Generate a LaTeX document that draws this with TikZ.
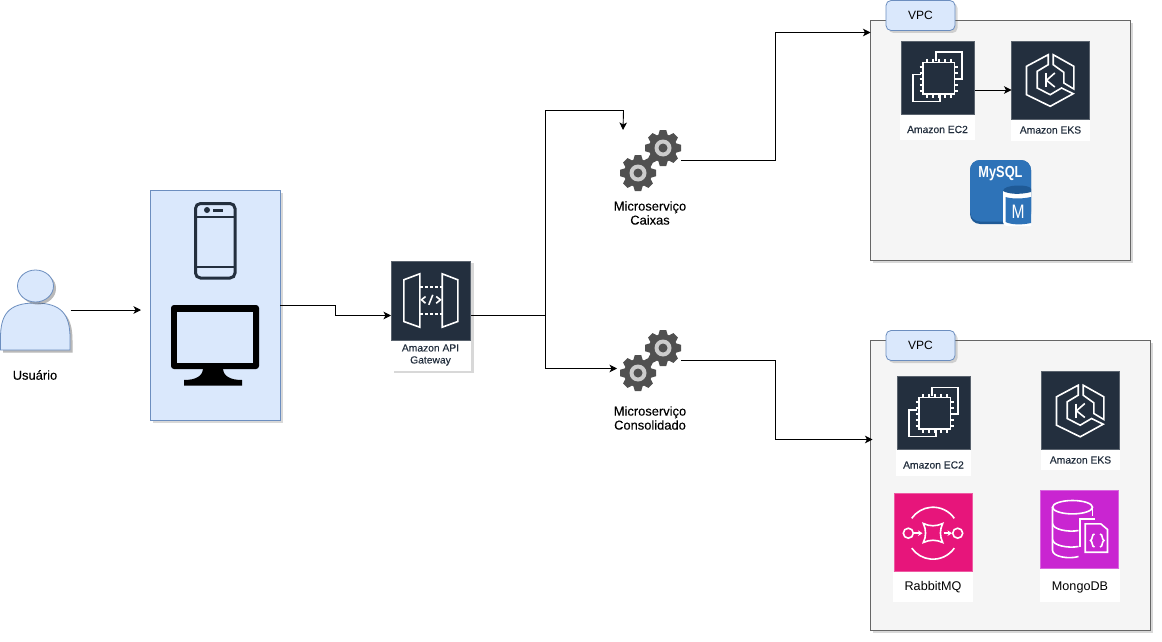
\documentclass[tikz,border=0pt]{standalone}
\usepackage{fontspec}
\setmainfont{Liberation Sans}
\newfontfamily\heavyfont[FakeBold=0.2]{Liberation Sans}
\usetikzlibrary{arrows.meta,shadows,positioning,calc}

\definecolor{awsdark}{HTML}{232F3E}
\definecolor{boxblue}{HTML}{DAE8FC}
\definecolor{edgeblue}{HTML}{6C8EBF}
\definecolor{vpcgray}{HTML}{F5F5F5}
\definecolor{vpcedge}{HTML}{666666}
\definecolor{gearcolor}{HTML}{505050}
\definecolor{rabbitpink}{HTML}{E7157B}
\definecolor{mongopurple}{HTML}{C925D1}
\definecolor{mysqlblue}{HTML}{2E73B8}
\definecolor{mysqldark}{HTML}{1F5A96}

\newcommand{\gearshape}[2]{%
  \begin{scope}[shift={(#1,#2)}]
    \foreach \a in {0,45,...,315}
      \fill[gearcolor,rotate=\a] (-5,-12) -- (-3.2,-18) -- (3.2,-18) -- (5,-12) -- cycle;
    \fill[gearcolor] (0,0) circle (14);
    \fill[black!20] (0,0) circle (8.5);
    \fill[gearcolor] (0,0) circle (4.5);
  \end{scope}}

\tikzset{
  pics/gearpair/.style={code={\gearshape{43}{18}\gearshape{18}{43}}},
  pics/ec2icon/.style={code={
    \draw[iconline] (35,20) |- (61,11.3) |- (53,38);
    \draw[iconline] (20,33.7) -| (11.7,60.3) -| (39,53.7);
    \draw[iconline] (22,21.5) rectangle (53.5,53);
    \foreach \p in {26,32,38,44,50} {
      \draw[iconpin] (\p,18) -- (\p,21.5);
      \draw[iconpin] (\p,53) -- (\p,56.5);
      \draw[iconpin] (18.5,\p) -- (22,\p);
      \draw[iconpin] (53.5,\p) -- (57,\p);
    }}},
  pics/eksicon/.style={code={
    \draw[iconline] (36.7,13.7) -- (15,25.3) -- (15,53.7) -- (38.7,65.3) -- (61.7,52.7) -- (50,47) -- (38.7,53.7) -- (25.7,47) -- (25.7,30.3) -- (36.7,23.7) -- cycle;
    \draw[iconline] (41.7,13.7) -- (62.3,25.3) -- (62.3,48) -- (52.3,42) -- (52.3,31.3) -- (41.7,23.7) -- cycle;
    \draw[iconline] (34.3,32) -- (34.3,46);
    \draw[iconline] (43.3,32) -- (35,39.3) -- (43.3,46);
  }},
  pics/gatewayicon/.style={code={
    \draw[iconline] (12.3,18.3) -- (28.3,12.3) -- (28.3,65.7) -- (12.3,60) -- cycle;
    \draw[iconline] (50.7,12.3) -- (66.3,18.3) -- (66.3,60) -- (50.7,65.7) -- cycle;
    \draw[iconline,densely dashed] (28.3,25.7) -- (50.7,25.7);
    \draw[iconline,densely dashed] (28.3,52.7) -- (50.7,52.7);
    \draw[iconline] (34,35) -- (30,38.3) -- (34,41.7);
    \draw[iconline] (41.3,33.3) -- (37.3,43.3);
    \draw[iconline] (44.7,35) -- (49,38.3) -- (44.7,41.7);
  }},
  pics/rabbiticon/.style={code={
    \draw[iconline] (14.3,39.7) circle (5);
    \draw[iconline] (63.7,39.7) circle (5);
    \draw[iconline] (60.3,24.8) arc[start angle=-35,end angle=-145,radius=26];
    \draw[iconline] (60.3,54.6) arc[start angle=35,end angle=145,radius=26];
    \draw[iconline] (29.3,30) .. controls (36,33) and (42,33) .. (48.7,30)
      .. controls (45.7,36) and (45.7,43) .. (48.7,49)
      .. controls (42,46) and (36,46) .. (29.3,49)
      .. controls (32.3,43) and (32.3,36) .. cycle;
    \draw[iconline,-{Stealth[length=4.5pt,width=5.5pt]}] (20,39.7) -- (28.5,39.7);
    \draw[iconline,-{Stealth[length=4.5pt,width=5.5pt]}] (49.5,39.7) -- (58,39.7);
  }},
  pics/mongoicon/.style={code={
    \draw[iconline] (32,16.7) ellipse[x radius=20,y radius=6.7];
    \draw[iconline] (52,16.7) -- (52,25);
    \draw[iconline] (12,16.7) -- (12,60) .. controls (12,66) and (28,69) .. (38,66);
    \draw[iconline] (12,33) .. controls (12,39) and (28,42) .. (38,40);
    \draw[iconline] (12,49) .. controls (12,55) and (28,58) .. (38,56);
    \draw[iconline] (39.7,56.7) -- (39.7,28.3) -- (54.7,28.3);
    \draw[iconline] (44.7,33.3) -- (60.3,33.3) -- (67,39) -- (67,61.7) -- (44.7,61.7) -- cycle;
    \draw[iconline] (54,43.5) .. controls (51,43.5) and (52.5,49) .. (50,50) .. controls (52.5,51) and (51,56.5) .. (54,56.5);
    \draw[iconline] (59.5,43.5) .. controls (62.5,43.5) and (61,49) .. (63.5,50) .. controls (61,51) and (62.5,56.5) .. (59.5,56.5);
  }}
}

\begin{document}
\begin{tikzpicture}[
  x=1pt, y=-1pt,
  > = {Stealth[length=7.5pt,width=7.5pt,inset=2pt]},
  softshadow/.style = {drop shadow={shadow xshift=2.5pt,shadow yshift=-2.5pt,opacity=.22,fill=black!70}},
  conn/.style = {draw=black,line width=.9pt},
  box/.style = {rectangle,inner sep=0pt,outer sep=0pt},
  blank/.style = {box,draw=none},
  bluebox/.style = {box,fill=boxblue,draw=edgeblue,line width=.8pt,softshadow},
  vpcbox/.style = {box,fill=vpcgray,draw=vpcedge,line width=.8pt,softshadow},
  vpctab/.style = {box,fill=boxblue,draw=edgeblue,line width=.8pt,rounded corners=5pt,softshadow,
    minimum width=69pt,minimum height=30pt,font=\fontsize{12}{14}\selectfont},
  iconbox/.style = {box,minimum width=#1,minimum height=#1},
  darkicon/.style = {iconbox=#1,fill=awsdark,draw=awsdark!75,line width=.5pt},
  iconline/.style = {draw=white,line width=1.6pt},
  iconpin/.style = {draw=white,line width=1.2pt},
  awslabel/.style = {box,fill=white,text=awsdark,font=\heavyfont\fontsize{10.3}{12}\selectfont},
  biglabel/.style = {box,fill=white,text=black,font=\fontsize{12.6}{14}\selectfont},
  caption/.style = {inner sep=0pt,align=center,font=\heavyfont\fontsize{12.9}{14}\selectfont}
  ]
  \useasboundingbox (0,0) rectangle (1162,642);

  % user
  \node[blank,minimum width=70pt,minimum height=80pt] (usuario) at (35.5,310) {};
  \draw[bluebox,softshadow] (0.5,350) -- (0.5,338) .. controls (0.5,315) and (8,303) .. (35,303)
    .. controls (62,303) and (70,315) .. (70,338) -- (70,350) -- cycle;
  \draw[bluebox,softshadow] (35.5,286) ellipse[x radius=18,y radius=16];
  \node[caption] (usuarioText) at (35,375) {Usuário};

  % devices
  \node[bluebox,minimum width=130pt,minimum height=230pt] (devices) at (215,305) {};
  \draw[draw=awsdark,line width=3pt,rounded corners=5pt] (195.5,203.5) rectangle (235,278);
  \draw[draw=awsdark,line width=2pt] (195.5,217) -- (235,217) (195.5,267) -- (235,267);
  \fill[awsdark] (207,210) circle (3);
  \fill[awsdark] (213,208.5) rectangle (223,211.5);
  \fill[black,rounded corners=3pt] (171,305) rectangle (259,369);
  \fill[boxblue] (177,312) rectangle (253,363);
  \fill[black] (203,368) .. controls (203,376) and (196,380) .. (184,380) -- (184,385.5) -- (242,385.5) -- (242,380)
    .. controls (230,380) and (223,376) .. (223,368) -- cycle;

  % gateway
  \node[box,fill=white,softshadow,minimum width=80pt,minimum height=110pt] (gateway) at (431,315.5) {};
  \node[darkicon=78.5pt,anchor=north west] (gatewayIcon) at (391.5,261.5) {};
  \pic at (gatewayIcon.north west) {gatewayicon};
  \node[inner sep=0pt,align=center,text=awsdark,font=\heavyfont\fontsize{10.3}{12}\selectfont] (gatewayText) at (430.5,355) {Amazon API\\Gateway};

  % services
  \node[blank,minimum width=61pt,minimum height=61pt] (gearsA) at (650.5,160.5) {};
  \pic at (gearsA.north west) {gearpair};
  \node[caption] (gearsAText) at (650,213) {Microserviço\\Caixas};
  \node[blank,minimum width=61pt,minimum height=61pt] (gearsB) at (650.5,360.5) {};
  \pic at (gearsB.north west) {gearpair};
  \node[caption] (gearsBText) at (650,418) {Microserviço\\Consolidado};

  % first vpc
  \node[vpcbox,minimum width=260pt,minimum height=240pt] (vpcA) at (1000.5,140.5) {};
  \node[vpctab] (tabA) at (920.5,15.5) {VPC};
  \node[awslabel,minimum width=75pt,minimum height=26pt,text height=14pt,text depth=2pt] (ec2AText) at (937.5,127) {Amazon EC2};
  \node[darkicon=73pt] (ec2A) at (937.5,77.5) {};
  \pic at (ec2A.north west) {ec2icon};
  \node[awslabel,minimum width=79pt,minimum height=21pt] (eksAText) at (1050.5,130) {Amazon EKS};
  \node[darkicon=78pt] (eksA) at (1050.5,80) {};
  \pic at (eksA.north west) {eksicon};
  \node[box,minimum width=61pt,minimum height=64pt] (mysql) at (1000.5,192) {};
  \fill[mysqldark,rounded corners=10pt] (mysql.north west) rectangle (mysql.south east);
  \fill[mysqlblue,rounded corners=10pt] (970,160) rectangle (1031,221.5);
  \node[text=white,inner sep=0pt,font=\bfseries\fontsize{16}{16}\selectfont,xscale=.8] (mysqlText) at (1000.5,174) {MySQL};
  \fill[white] (1003,191) rectangle (1031,222) (1003,222) arc[start angle=180,end angle=90,radius=4] -- (1031,226) -- (1031,222) -- cycle;
  \fill[mysqldark] (1003,191) .. controls (1003,184) and (1031,184) .. (1031,189) -- (1031,192) .. controls (1020,195) and (1008,194) .. (1003,191) -- cycle;
  \fill[mysqlblue] (1005.5,197) .. controls (1012,199) and (1022,199) .. (1031,197) -- (1031,223) .. controls (1022,225) and (1012,225) .. (1005.5,222) -- cycle;
  \node[text=white,inner sep=0pt,font=\fontsize{19.5}{20}\selectfont,xscale=.8] (mysqlM) at (1018,211.5) {M};

  % second vpc
  \node[vpcbox,minimum width=280pt,minimum height=290pt] (vpcB) at (1010.5,485.5) {};
  \node[vpctab] (tabB) at (920.5,345.5) {VPC};
  \node[awslabel,minimum width=75pt,minimum height=27pt,text height=14pt,text depth=2pt] (ec2BText) at (933.5,462.5) {Amazon EC2};
  \node[darkicon=73pt] (ec2B) at (933.5,412.5) {};
  \pic at (ec2B.north west) {ec2icon};
  \node[awslabel,minimum width=79pt,minimum height=20pt] (eksBText) at (1080.5,460) {Amazon EKS};
  \node[darkicon=78pt] (eksB) at (1080.5,410.5) {};
  \pic at (eksB.north west) {eksicon};
  \node[biglabel,minimum width=80pt,minimum height=30pt] (rabbitText) at (933,587) {RabbitMQ};
  \node[iconbox=78pt,fill=rabbitpink,draw=rabbitpink!70!white,line width=.5pt] (rabbit) at (933,532.5) {};
  \pic at (rabbit.north west) {rabbiticon};
  \node[biglabel,minimum width=80pt,minimum height=33pt,text height=11pt,text depth=1pt] (mongoText) at (1080,585.5) {MongoDB};
  \node[iconbox=78pt,fill=mongopurple,draw=mongopurple!70!white,line width=.5pt] (mongo) at (1079.5,529.5) {};
  \pic at (mongo.north west) {mongoicon};

  % connectors
  \draw[conn,->] (usuario.east) -- ($(usuario.east -| devices.west)+(-9pt,0)$);
  \draw[conn,->] (devices.east) -- ++(55,0) |- (gateway.west);
  \coordinate (split) at (545.5,315.5);
  \draw[conn] (gateway.east) -- (split);
  \draw[conn,->] (split) |- (623.5,110.5) -- ([xshift=3pt]gearsA.north west);
  \draw[conn,->] (split) |- ([xshift=-3pt,yshift=-8pt]gearsB.west);
  \draw[conn,->] (gearsA.east) -- ++(94,0) |- ([yshift=-12pt]vpcA.north west);
  \draw[conn,->] (gearsB.east) -- ++(94,0) |- ([xshift=2pt,yshift=46pt]vpcB.west);
  \draw[conn,->] (ec2A.east) ++(1,12.5) -- ([yshift=-10pt]eksA.west);

\end{tikzpicture}
\end{document}
